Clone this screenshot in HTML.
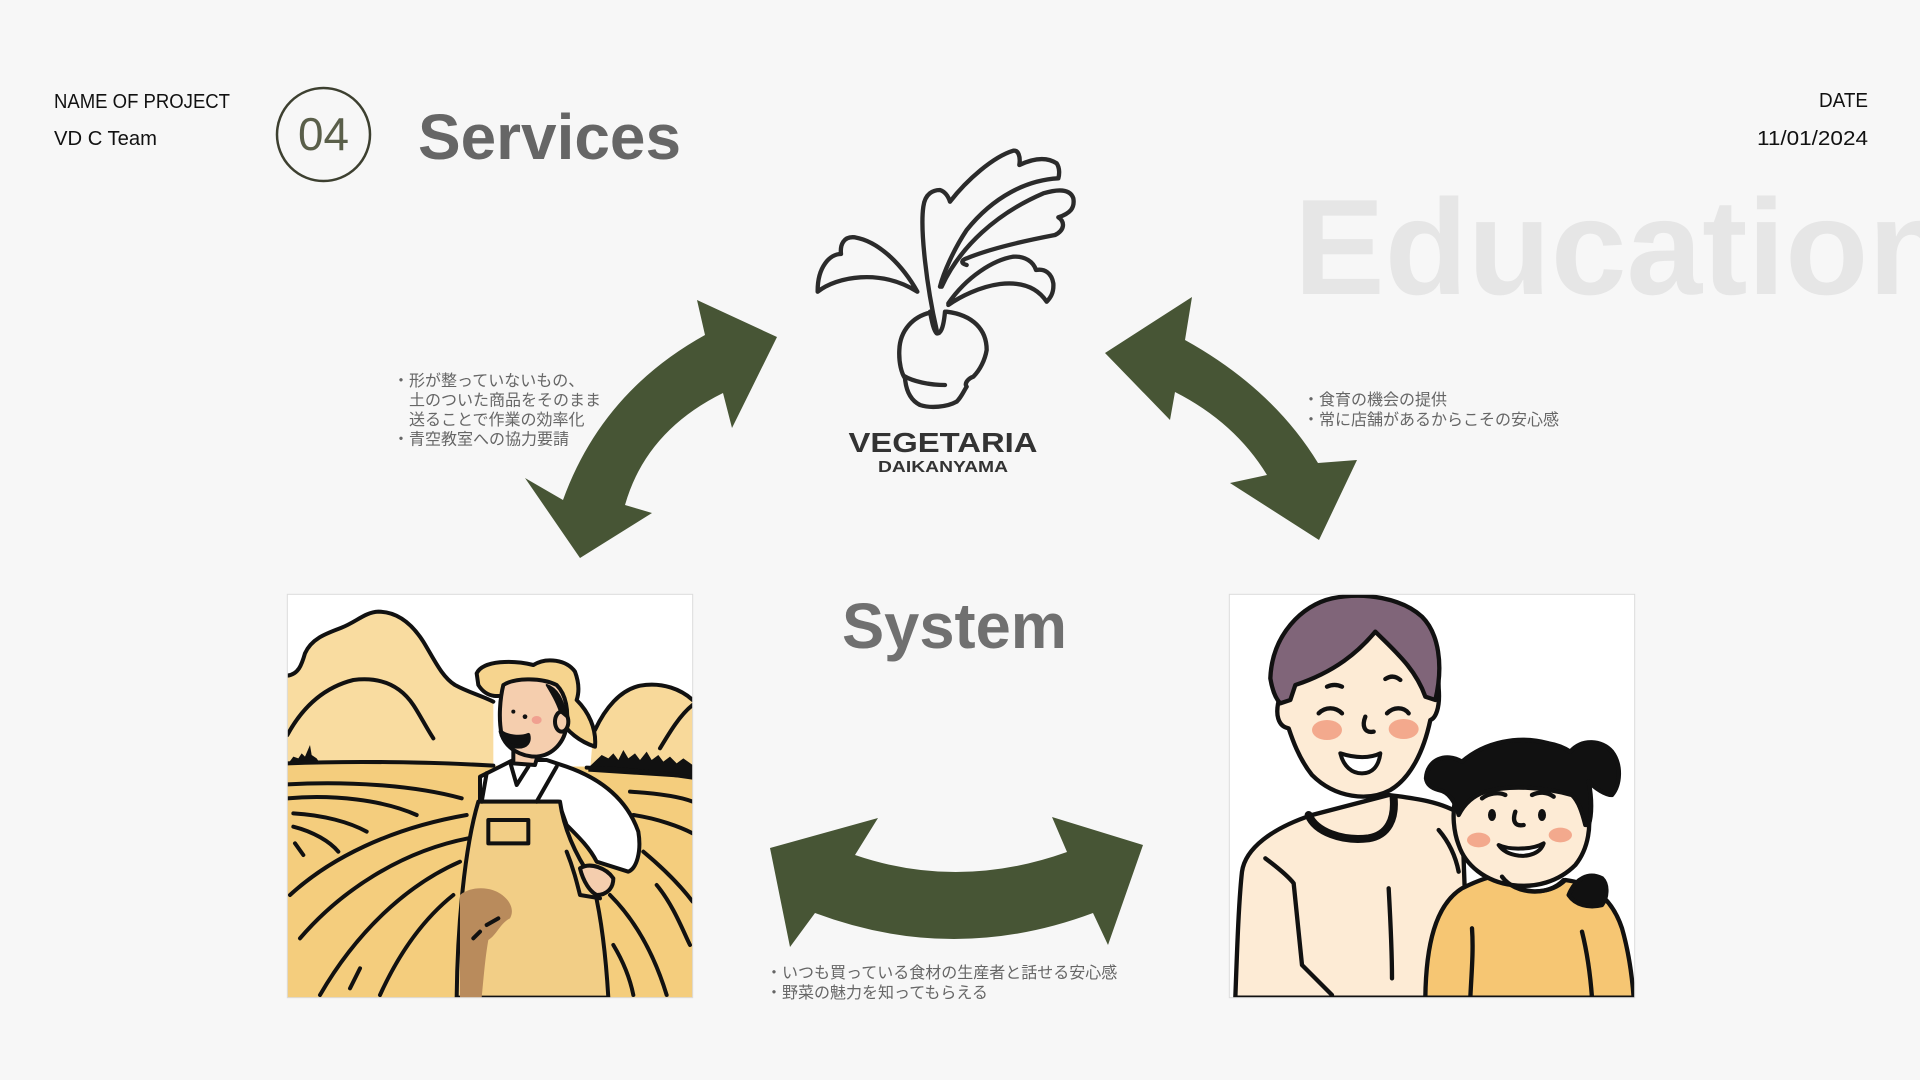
<!DOCTYPE html>
<html>
<head>
<meta charset="utf-8">
<style>
  html,body{margin:0;padding:0;background:#f7f7f7;}
  body{width:1920px;height:1080px;overflow:hidden;position:relative;}
  svg{position:absolute;left:0;top:0;}
  .jp{font-family:"Liberation Sans","Noto Sans CJK JP",sans-serif;font-size:16px;fill:#666;}
</style>
</head>
<body>
<svg width="1920" height="1080" viewBox="0 0 1920 1080" xmlns="http://www.w3.org/2000/svg">
  <defs>
    <clipPath id="cf"><rect x="22" y="28" width="1216" height="1210"/></clipPath>
  </defs>
  <rect width="1920" height="1080" fill="#f7f7f7"/>

  <!-- Watermark -->
  <text x="1294" y="294" font-family="Liberation Sans, Arial, sans-serif" font-weight="bold" font-size="136" fill="#e6e6e6">Education</text>

  <!-- Header -->
  <text x="54" y="108" font-family="Liberation Sans, sans-serif" font-size="20" fill="#111" textLength="176" lengthAdjust="spacingAndGlyphs">NAME OF PROJECT</text>
  <text x="54" y="145" font-family="Liberation Sans, sans-serif" font-size="20" fill="#111" textLength="103" lengthAdjust="spacingAndGlyphs">VD C Team</text>
  <text x="1868" y="107" text-anchor="end" font-family="Liberation Sans, sans-serif" font-size="20" fill="#111" textLength="49" lengthAdjust="spacingAndGlyphs">DATE</text>
  <text x="1868" y="145" text-anchor="end" font-family="Liberation Sans, sans-serif" font-size="20" fill="#111" textLength="111" lengthAdjust="spacingAndGlyphs">11/01/2024</text>

  <circle cx="323.5" cy="134.5" r="46.5" fill="none" stroke="#3d4030" stroke-width="2.5"/>
  <text x="323.5" y="150" text-anchor="middle" font-family="Liberation Sans, sans-serif" font-size="46" fill="#5a5f4a" textLength="51" lengthAdjust="spacingAndGlyphs">04</text>

  <text x="418" y="159" font-family="Liberation Sans, Arial, sans-serif" font-weight="bold" font-size="64" fill="#666" textLength="263" lengthAdjust="spacingAndGlyphs">Services</text>

  <text x="842" y="648" font-family="Liberation Sans, Arial, sans-serif" font-weight="bold" font-size="64" fill="#707070" textLength="225" lengthAdjust="spacingAndGlyphs">System</text>

  <!-- Logo -->
  <g transform="translate(780,130) scale(0.333333)" fill="none" stroke="#2b2b2b" stroke-width="13" stroke-linejoin="round" stroke-linecap="round">
    <path d="M412,485 C370,410 300,335 225,322 C190,318 180,345 183,372 C150,372 112,410 113,485 C170,440 300,415 412,485"/>
    <path d="M470,600 C440,470 420,300 430,230 C435,190 460,180 480,180 C495,185 505,200 510,215 C560,150 640,80 700,62 C715,60 722,80 718,105 C760,85 800,80 830,100 C840,115 838,135 835,145 C740,150 640,200 560,300 C520,360 490,430 480,470"/>
    <path d="M485,470 C540,350 650,250 790,190 C830,178 870,175 880,205 C885,235 870,250 835,262 C855,275 855,300 825,315 C720,335 620,360 560,385 C545,390 540,400 560,405"/>
    <path d="M505,520 C560,440 640,390 700,380 C735,378 760,395 768,420 C795,415 815,430 820,460 C822,490 810,505 800,515 C770,470 720,455 660,462 C600,470 540,500 505,525"/>
    <path d="M450,545 C455,570 460,600 470,610 C480,612 490,600 495,545"/>
    <path d="M450,548 C400,560 360,600 358,660 C356,700 365,730 375,745 C378,780 390,810 420,825 C450,835 500,832 530,815 C545,800 550,785 560,770 C552,760 565,745 580,740 C600,720 615,690 620,660 C620,600 580,555 500,545"/>
    <path d="M372,738 C400,755 450,765 495,765"/>
  </g>
  <text x="943" y="452" text-anchor="middle" font-family="Liberation Sans, sans-serif" font-weight="bold" font-size="28" fill="#333" textLength="189" lengthAdjust="spacingAndGlyphs">VEGETARIA</text>
  <text x="943" y="472" text-anchor="middle" font-family="Liberation Sans, sans-serif" font-weight="bold" font-size="16" fill="#333" textLength="130" lengthAdjust="spacingAndGlyphs">DAIKANYAMA</text>

  <!-- Arrows -->
  <g fill="#475535">
    <path d="M777,337 L732,428 L723,393 Q646,431 625,505 L652,513 L580,558 L525,478 L563,500 Q602,392 705,335 L697,300 Z"/>
    <path d="M1105,353 L1192,297 L1185,340 Q1272.5,388.5 1318,463 L1357,460 L1319,540 L1230,483 L1267,475 Q1235,422.5 1175,392 L1170,420 Z"/>
    <path d="M770,848 L878,818 L855,855 Q959,890.5 1067,852 L1052,817 L1143,845 L1108,945 L1093,913 Q954,965 815,913 L790,947 Z"/>
  </g>

  <!-- Labels -->
  <text class="jp" x="393" y="386">・形が整っていないもの、</text>
  <text class="jp" x="409" y="405.5">土のついた商品をそのまま</text>
  <text class="jp" x="409" y="425">送ることで作業の効率化</text>
  <text class="jp" x="393" y="444.5">・青空教室への協力要請</text>

  <text class="jp" x="1303" y="405">・食育の機会の提供</text>
  <text class="jp" x="1303" y="425">・常に店舗があるからこその安心感</text>

  <text class="jp" x="766" y="978">・いつも買っている食材の生産者と話せる安心感</text>
  <text class="jp" x="766" y="998">・野菜の魅力を知ってもらえる</text>

  <!-- Farmer illustration -->
  <g transform="translate(280,585) scale(0.333333)">
    <g clip-path="url(#cf)">
      <rect x="22" y="28" width="1216" height="1210" fill="#fff"/>
      <path fill="#f9dca0" d="M22,272 C55,268 65,240 75,205 C95,160 140,145 185,128 C230,110 255,82 295,80 C350,80 395,115 430,170 C462,222 485,275 525,300 C565,322 600,330 640,350 L640,545 L22,545 Z"/>
      <path fill="#f8d99a" d="M940,440 C975,370 1020,315 1080,302 C1150,290 1205,315 1238,345 L1238,590 L930,560 Z"/>
      <path fill="#f4cd7d" d="M22,535 C200,528 450,530 640,542 L920,545 C1050,552 1150,565 1238,578 L1238,1238 L22,1238 Z"/>
      <g fill="#111">
        <path d="M25,535 L40,515 L55,520 L65,505 L75,515 L90,480 L95,510 L110,520 L120,535 Z"/>
        <path d="M925,548 L965,510 L985,520 L1000,505 L1015,525 L1030,495 L1045,520 L1065,505 L1080,525 L1100,500 L1115,525 L1135,510 L1150,530 L1170,515 L1190,535 L1210,520 L1238,540 L1238,580 L925,560 Z"/>
      </g>
      <g fill="none" stroke="#111" stroke-width="12" stroke-linecap="round" stroke-linejoin="round">
        <path d="M22,272 C55,268 65,240 75,205 C95,160 140,145 185,128 C230,110 255,82 295,80 C350,80 395,115 430,170 C462,222 485,275 525,300 C565,322 600,330 640,350"/>
        <path d="M22,450 C60,380 120,310 220,285 C300,275 360,300 400,360 C420,390 440,430 460,460"/>
        <path d="M945,435 C975,370 1020,315 1080,302 C1150,290 1205,315 1238,345"/>
        <path d="M1140,490 C1170,440 1200,390 1238,360"/>
        <path d="M22,535 C200,528 450,530 640,542"/>
        <path d="M920,548 C1050,552 1150,565 1238,578"/>
        <path d="M22,598 C200,588 400,600 545,640"/>
        <path d="M22,640 C160,628 310,645 410,690"/>
        <path d="M40,685 C130,690 210,712 260,740"/>
        <path d="M40,725 C100,740 150,770 175,800"/>
        <path d="M45,775 L70,810"/>
        <path d="M30,930 C150,820 330,730 560,690"/>
        <path d="M60,1060 C180,920 360,800 565,760"/>
        <path d="M120,1230 C230,1040 380,900 540,830"/>
        <path d="M300,1230 C350,1120 420,1010 520,930"/>
        <path d="M210,1210 L240,1150"/>
        <path d="M1050,620 C1130,625 1200,635 1238,650"/>
        <path d="M1060,690 C1130,700 1200,725 1238,745"/>
        <path d="M1090,800 C1150,850 1200,900 1238,950"/>
        <path d="M1130,900 C1180,960 1210,1040 1230,1080"/>
        <path d="M990,930 C1060,1000 1120,1100 1160,1230"/>
        <path d="M1000,1080 C1030,1130 1050,1180 1060,1230"/>
      </g>
      <!-- farmer -->
      <g stroke="#111" stroke-width="12" stroke-linejoin="round" stroke-linecap="round">
        <path fill="#fff" d="M600,575 L700,525 L800,525 L860,545 C960,580 1040,640 1075,740 C1085,800 1070,850 1045,860 L950,830 C930,790 900,760 860,720 L835,650 L600,650 Z"/>
        <path fill="#f2ce86" d="M595,650 L840,650 C850,720 880,800 935,880 C965,990 978,1120 985,1238 L530,1238 C532,1050 550,800 595,650 Z"/>
        <path fill="none" d="M620,565 L605,650 M830,545 L770,650"/>
        <rect x="625" y="705" width="120" height="70" fill="none"/>
        <path fill="none" d="M690,530 L710,600 L745,545"/>
        <path fill="#f5ceae" d="M700,470 L700,535 L765,540 L785,470 Z"/>
        <path fill="#f6d48e" d="M590,265 C610,225 700,225 760,240 C800,215 860,225 885,260 C900,300 895,330 890,345 C925,380 950,430 945,485 C900,470 860,440 840,400 L700,320 C660,340 620,340 595,300 Z"/>
        <path fill="#f5ceae" d="M670,300 C700,280 780,275 830,300 C860,330 865,380 860,420 C855,470 820,510 770,515 C720,515 680,490 665,450 C655,400 660,340 670,300 Z"/>
        <ellipse cx="845" cy="410" rx="20" ry="30" fill="#f5ceae"/>
        <path fill="#111" d="M662,440 C680,455 720,460 745,450 C750,470 740,485 715,485 C690,485 670,470 662,440 Z"/>
        <path fill="#111" stroke-width="6" d="M800,300 C830,310 850,340 858,395 L840,380 C830,350 815,325 800,300 Z"/>
        <path fill="#f5ceae" d="M900,850 C930,830 980,850 1000,880 C1000,910 980,930 950,930 C930,920 910,890 900,850 Z"/>
        <path fill="none" d="M860,800 C880,850 890,890 900,930 L960,940"/>
        <path fill="#b98b5c" stroke="none" d="M540,930 C570,905 620,905 650,920 C690,940 705,975 690,1000 C660,1015 650,1050 625,1065 C615,1120 610,1190 605,1238 L540,1238 Z"/>
        <path fill="none" d="M655,1000 L620,1020 M600,1040 L580,1060"/>
      </g>
      <ellipse cx="770" cy="405" rx="15" ry="12" fill="#f0a090"/>
      <circle cx="735" cy="395" r="7" fill="#111"/>
      <circle cx="700" cy="380" r="6" fill="#111"/>
    </g>
    <rect x="22" y="28" width="1216" height="1210" fill="none" stroke="#dcdcdc" stroke-width="3"/>
  </g>

  <!-- Family illustration -->
  <g transform="translate(1222,585) scale(0.333333)">
    <g clip-path="url(#cf)">
      <rect x="22" y="28" width="1216" height="1210" fill="#fff"/>
      <g stroke="#111" stroke-width="13" stroke-linejoin="round" stroke-linecap="round">
        <path fill="#fdebd5" d="M40,1238 C45,1100 50,950 60,860 C70,790 150,730 270,690 L500,630 C580,640 660,650 720,690 L740,1238 Z"/>
        <path fill="none" stroke-width="24" d="M260,690 C280,740 360,770 440,760 C500,750 520,700 515,640"/>
        <path fill="#fdebd5" d="M175,330 C160,240 180,140 260,80 C330,35 450,40 530,85 C610,130 650,210 650,310 C655,370 640,400 625,405 C605,500 565,580 505,615 C440,650 340,640 270,570 C230,520 210,460 200,430 C170,425 155,390 175,330 Z"/>
        <path fill="#806579" d="M145,280 C150,150 240,60 330,40 C430,20 540,40 600,95 C650,145 665,240 640,345 L610,335 C580,250 520,200 460,140 C410,200 340,260 220,300 L205,345 L175,355 C160,340 150,310 145,280 Z"/>
        <path fill="none" d="M290,385 C310,365 340,365 360,385 M495,385 C515,365 545,365 560,385"/>
        <path fill="none" d="M315,305 C330,298 345,298 360,305 M490,282 C505,272 520,272 535,285"/>
        <path fill="none" d="M430,395 C420,420 425,445 455,440"/>
        <path fill="none" d="M130,820 C170,850 200,875 215,895 L240,1140 L330,1230 M500,910 C505,1000 510,1090 510,1180 M650,735 C680,770 700,810 710,860"/>
      </g>
      <ellipse cx="315" cy="435" rx="45" ry="30" fill="#f3a98d"/>
      <ellipse cx="545" cy="432" rx="45" ry="30" fill="#f3a98d"/>
      <path fill="#fff" stroke="#111" stroke-width="12" stroke-linejoin="round" d="M355,505 C400,520 445,520 475,505 C470,545 450,565 420,565 C390,565 365,545 355,505 Z"/>
      <g stroke="#111" stroke-width="13" stroke-linejoin="round" stroke-linecap="round">
        <path fill="#f6c673" d="M610,1238 C612,1080 640,960 720,910 C770,885 810,872 840,870 C880,930 980,935 1030,885 C1110,895 1170,940 1200,1030 C1220,1100 1230,1170 1235,1238 Z"/>
        <path fill="#fdebd5" d="M700,640 C730,580 820,560 900,560 C990,560 1070,590 1095,660 C1110,720 1100,790 1060,840 C1010,890 940,910 870,900 C790,890 730,840 710,780 C695,740 690,690 700,640 Z"/>
        <path fill="#111" d="M612,580 C615,525 670,500 720,530 C790,470 890,450 980,475 C1010,480 1030,490 1045,500 C1080,460 1140,465 1170,500 C1200,540 1195,600 1170,630 C1150,630 1120,610 1100,590 C1110,640 1110,690 1100,720 L1090,720 C1080,680 1070,650 1050,630 C960,605 860,600 790,620 C760,630 730,650 710,690 C700,650 680,620 650,615 C630,610 615,600 612,580 Z"/>
        <path fill="none" d="M840,875 C880,930 980,935 1025,885"/>
        <path fill="none" d="M780,640 C800,625 830,620 850,630 M930,630 C950,620 975,620 995,635"/>
        <path fill="none" d="M880,680 C870,710 880,725 905,720"/>
        <path fill="#111" d="M1040,930 C1060,880 1100,860 1140,880 C1160,900 1155,940 1140,960 C1100,970 1060,960 1040,930 Z"/>
        <path fill="none" d="M750,1030 C755,1100 748,1170 745,1238 M1080,1040 C1095,1100 1105,1170 1110,1238"/>
      </g>
      <ellipse cx="770" cy="765" rx="35" ry="22" fill="#f3a98d"/>
      <ellipse cx="1015" cy="750" rx="35" ry="22" fill="#f3a98d"/>
      <ellipse cx="810" cy="690" rx="12" ry="18" fill="#111"/>
      <ellipse cx="960" cy="690" rx="12" ry="18" fill="#111"/>
      <path fill="#fff" stroke="#111" stroke-width="12" stroke-linejoin="round" d="M830,780 C860,795 930,795 965,775 C955,805 920,815 890,812 C860,808 840,795 830,780 Z"/>
    </g>
    <rect x="22" y="28" width="1216" height="1210" fill="none" stroke="#dcdcdc" stroke-width="3"/>
  </g>
</svg>
</body>
</html>
